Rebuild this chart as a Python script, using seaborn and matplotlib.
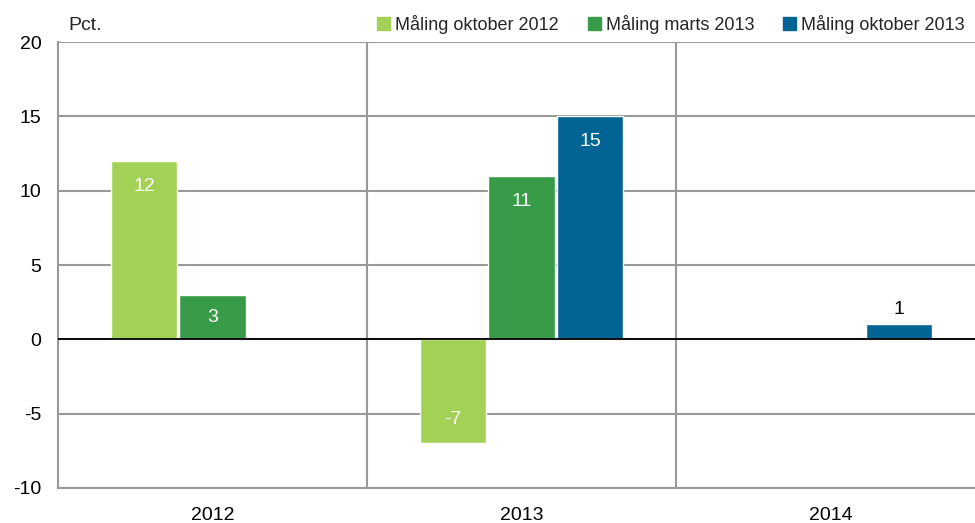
import matplotlib
matplotlib.use('Agg')
import matplotlib.pyplot as plt
import matplotlib.font_manager as fm
import pandas as pd
import seaborn as sns
import numpy as np

# Data
years = ['2012', '2013', '2014']
series = ['Måling oktober 2012', 'Måling marts 2013', 'Måling oktober 2013']
okt_2012 = [12, -7, np.nan]
marts_2013 = [3, 11, np.nan]
okt_2013 = [np.nan, 15, 1]
colors = ['#A3D155', '#389B48', '#006494']

df = pd.DataFrame({'year': years * 3,
                   'serie': [s for s in series for _ in years],
                   'value': okt_2012 + marts_2013 + okt_2013})

sns.set_style('white')
names = {f.name for f in fm.fontManager.ttflist}
fam = 'Liberation Sans Narrow' if 'Liberation Sans Narrow' in names else 'Liberation Sans'
plt.rcParams['font.family'] = [fam, 'DejaVu Sans']
plt.rcParams['axes.unicode_minus'] = False

fig = plt.figure(figsize=(9.75, 5.23), dpi=100)
ax = fig.add_axes([58 / 975, 35 / 523, 927 / 975, 446 / 523])

sns.barplot(data=df, x='year', y='value', hue='serie', order=years, hue_order=series,
            palette=colors, width=0.665, gap=0.03, saturation=1, ax=ax, legend=False)

ax.set_ylim(-10, 20)
ax.set_xlim(-0.5, 2.5)
ax.set_yticks(range(-10, 21, 5))
ax.yaxis.grid(True, color='#999999', linewidth=1.5)
ax.set_axisbelow(True)
ax.axhline(0, color='black', linewidth=1.3, zorder=3)
for xv in [0.5, 1.5]:
    ax.axvline(xv, color='#999999', linewidth=1.5, zorder=0)
for s in ['top', 'right']:
    ax.spines[s].set_visible(False)
for s in ['left', 'bottom']:
    ax.spines[s].set_color('#999999')
    ax.spines[s].set_linewidth(1.5)
ax.tick_params(axis='both', length=0, labelsize=14, colors='black')
ax.tick_params(axis='y', pad=12)
ax.tick_params(axis='x', pad=14)
ax.set_xlabel('')
ax.set_ylabel('')

# value labels
for cont in ax.containers:
    for p in cont:
        h = p.get_height()
        if np.isnan(h):
            continue
        xc = p.get_x() + p.get_width() / 2
        if h >= 5:
            ax.text(xc, h - 1.7, f'{h:.0f}', ha='center', va='center', color='white', fontsize=14)
        elif h < 0:
            ax.text(xc, h + 1.6, f'{h:.0f}', ha='center', va='center', color='white', fontsize=14)
        elif h >= 3:
            ax.text(xc, h / 2, f'{h:.0f}', ha='center', va='center', color='white', fontsize=14)
        else:
            ax.text(xc, h + 1.0, f'{h:.0f}', ha='center', va='center', color='black', fontsize=14)

fig.text(68 / 975, 1 - 25 / 523, 'Pct.', fontsize=14, va='center', ha='left')

handles = [plt.Rectangle((0, 0), 1, 1, color=c) for c in colors]
fig.legend(handles, series, loc='center right', bbox_to_anchor=(965 / 975, 1 - 24 / 523),
           ncol=3, frameon=False, fontsize=13, handlelength=0.7, handleheight=0.7,
           handletextpad=0.3, columnspacing=1.6, borderaxespad=0, borderpad=0)

fig.savefig('out.png', dpi=100)
